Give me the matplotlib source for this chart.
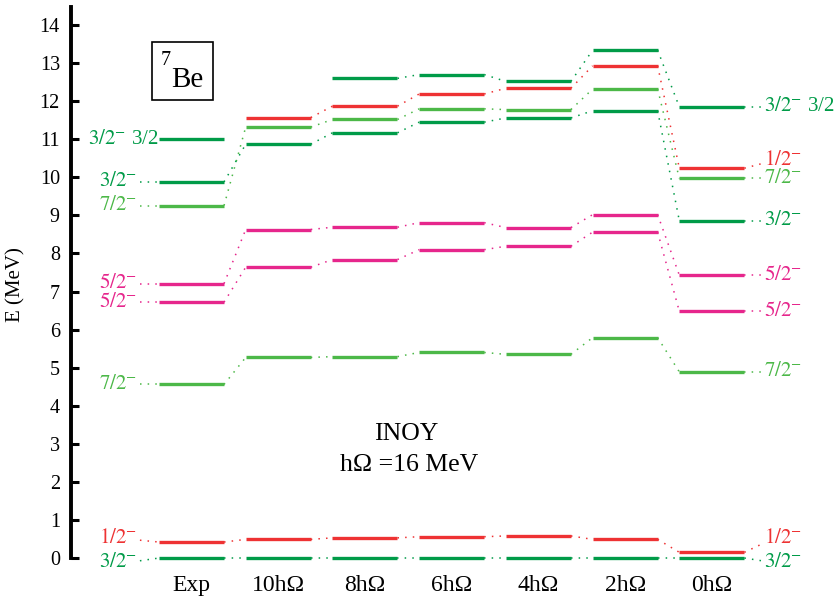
import numpy as np
import matplotlib.pyplot as plt

plt.rcParams['font.family'] = ['Liberation Serif', 'DejaVu Serif']
plt.rcParams['mathtext.fontset'] = 'stix'

# Espectro de 7Be: experimento y calculos NCSM (INOY, hOmega = 16 MeV)
columnas = ["Exp", "10hΩ", "8hΩ", "6hΩ", "4hΩ", "2hΩ", "0hΩ"]
nan = np.nan

e_32a = [0.0, 0.0, 0.0, 0.0, 0.0, 0.0, 0.0]
e_12a = [0.42, 0.49, 0.53, 0.56, 0.58, 0.49, 0.15]
e_72a = [4.56, 5.27, 5.29, 5.40, 5.35, 5.79, 4.89]
e_52a = [6.72, 7.64, 7.84, 8.10, 8.19, 8.56, 6.48]
e_52b = [7.21, 8.63, 8.69, 8.81, 8.68, 9.02, 7.43]
e_72b = [9.26, 11.32, 11.52, 11.80, 11.78, 12.32, 9.97]
e_32b = [9.88, 10.87, 11.17, 11.45, 11.56, 11.75, 8.86]
e_12b = [nan, 11.57, 11.87, 12.19, 12.34, 12.93, 10.24]
e_32c = [11.0, nan, 12.60, 12.70, 12.52, 13.34, 11.85]

verde = "#009b48"
verde_claro = "#4cb848"
rojo = "#ee3233"
magenta = "#e6268c"

# (energias, color, etiqueta, desplazamiento izq., desplazamiento der.)
niveles = [
    (e_32a, verde, r"$3/2^{-}$", -0.12, -0.12),
    (e_12a, rojo, r"$1/2^{-}$", 0.08, 0.36),
    (e_72a, verde_claro, r"$7/2^{-}$", 0.0, 0.0),
    (e_52a, magenta, r"$5/2^{-}$", 0.0, 0.0),
    (e_52b, magenta, r"$5/2^{-}$", 0.0, 0.0),
    (e_72b, verde_claro, r"$7/2^{-}$", 0.0, 0.0),
    (e_32b, verde, r"$3/2^{-}$", 0.0, 0.0),
    (e_12b, rojo, r"$1/2^{-}$", 0.0, 0.2),
    (e_32c, verde, r"$3/2^{-}$ 3/2", 0.0, 0.0),
]

w = 0.375
x = np.arange(len(columnas))
punteado = (0, (1, 4))
fs_etiq = 15

fig = plt.figure(figsize=(8.35, 5.99), dpi=100)
ax = fig.add_axes([0.085, 0.0684, 0.915, 0.9196])

for E, color, etiq, dy_izq, dy_der in niveles:
    E = np.array(E, dtype=float)
    for i in range(len(x)):
        if np.isnan(E[i]):
            continue
        ax.plot([x[i] - w, x[i] + w], [E[i], E[i]], color=color, lw=2.4,
                solid_capstyle='butt', clip_on=False)
        # linea punteada hacia la siguiente columna
        if i + 1 < len(x) and not np.isnan(E[i + 1]):
            ax.plot([x[i] + w, x[i + 1] - w], [E[i], E[i + 1]], color=color,
                    lw=1.1, ls=punteado, clip_on=False)

    # etiquetas a la derecha (0hOmega)
    xe = x[-1] + w
    ax.plot([xe, xe + 0.2], [E[-1], E[-1] + dy_der * 0.6], color=color,
            lw=1.1, ls=punteado, clip_on=False)
    ax.text(xe + 0.23, E[-1] + dy_der, etiq, color=color, fontsize=fs_etiq,
            ha='left', va='center', clip_on=False)

    # etiquetas a la izquierda (Exp)
    if not np.isnan(E[0]):
        if etiq.endswith("3/2"):
            ax.text(x[0] - w - 0.01, E[0], etiq, color=color, fontsize=fs_etiq,
                    ha='right', va='center')
        else:
            xs = x[0] - w
            ax.plot([xs - 0.22, xs], [E[0] + dy_izq * 0.6, E[0]], color=color,
                    lw=1.1, ls=punteado, clip_on=False)
            ax.text(xs - 0.255, E[0] + dy_izq, etiq, color=color,
                    fontsize=fs_etiq, ha='right', va='center')

# recuadro con el nucleo
ax.add_patch(plt.Rectangle((-0.456, 12.03), 0.704, 1.52, fill=False,
                           ec='black', lw=1.2, clip_on=False))
ax.text(-0.36, 12.95, "7", fontsize=14.5, ha='left', va='baseline')
ax.text(-0.24, 12.38, "Be", fontsize=21, ha='left', va='baseline')

ax.text(2.47, 3.26, "INOY", fontsize=18.5, ha='center', va='center')
ax.text(2.51, 2.44, "hΩ =16 MeV", fontsize=18.5, ha='center', va='center')

ax.set_xlim(-1.39, 7.42)
ax.set_ylim(0, 14.47)
ax.set_yticks(np.arange(0, 15, 1))
ax.set_xticks(x)
ax.set_xticklabels(columnas, fontsize=17)
ax.tick_params(axis='x', length=0, pad=12)
ax.tick_params(axis='y', direction='in', length=6, width=2.2, labelsize=14.5,
               pad=8)

for lado in ['top', 'right', 'bottom']:
    ax.spines[lado].set_visible(False)
ax.spines['left'].set_linewidth(2.8)
ax.spines['left'].set_bounds(0, 14.47)

ax.set_ylabel("E (MeV)", fontsize=15)
ax.yaxis.set_label_coords(-0.06, 0.497)

fig.savefig("out.png", dpi=100)
